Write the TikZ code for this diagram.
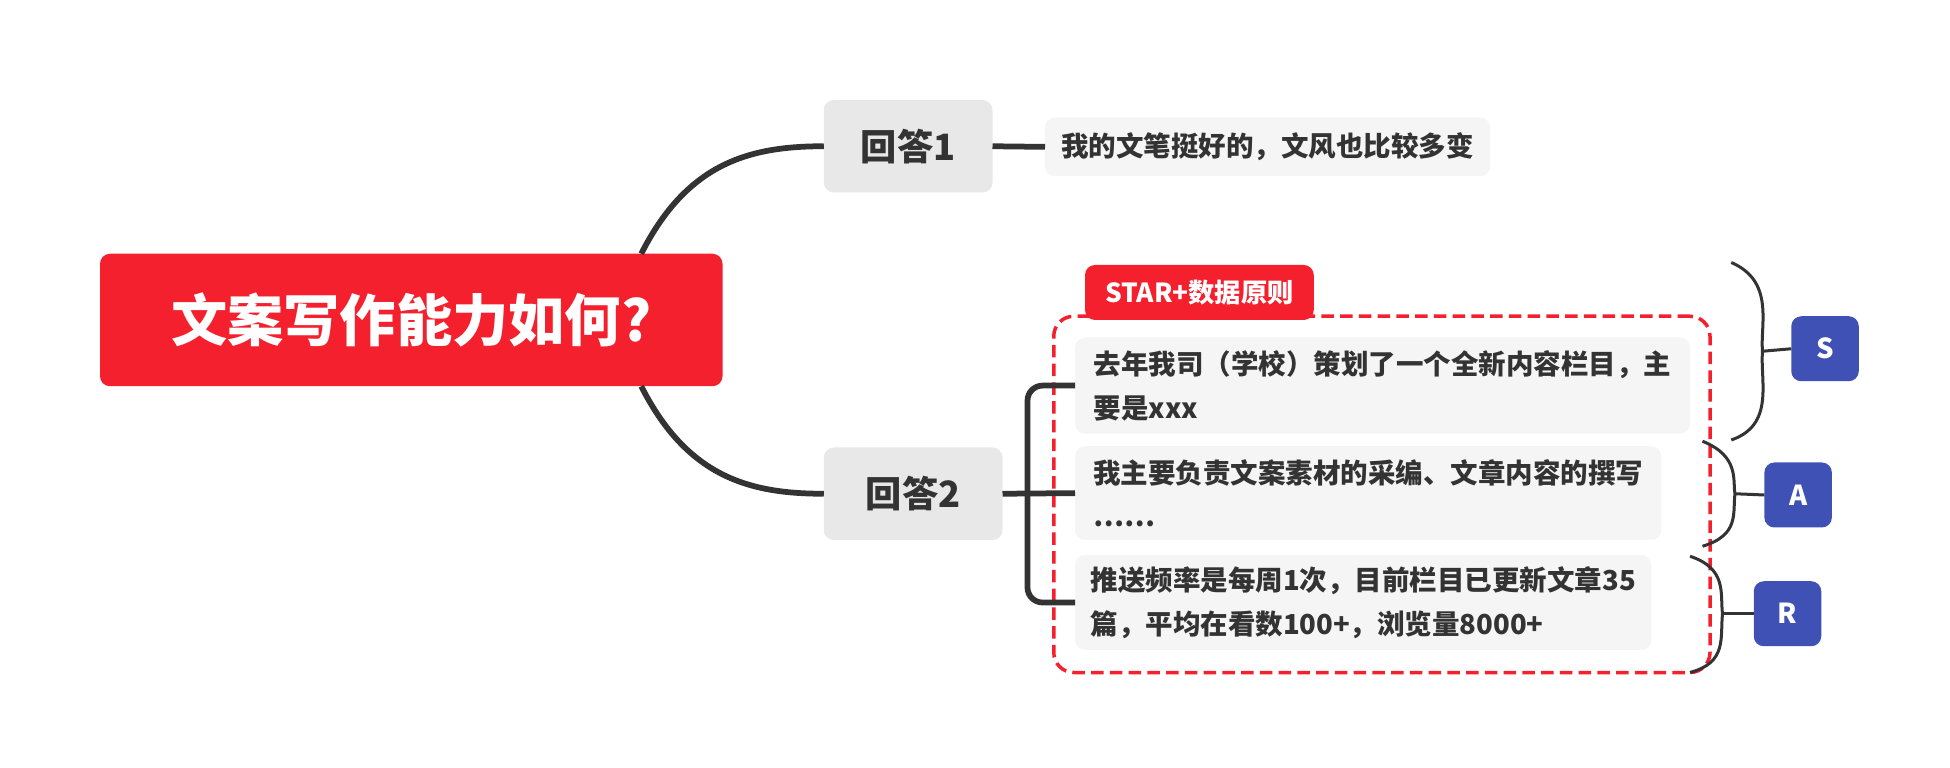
\documentclass[tikz,border=0pt]{standalone}
\usepackage{fontspec}
\setmainfont{Noto Sans CJK SC}
\usetikzlibrary{positioning}
\definecolor{rootred}{HTML}{F5202E}
\definecolor{topicgray}{HTML}{E8E8E8}
\definecolor{leafgray}{HTML}{F5F5F5}
\definecolor{txt}{HTML}{333333}
\definecolor{linec}{HTML}{333333}
\definecolor{sblue}{HTML}{3F51B5}
\tikzset{
  every node/.style={inner sep=0pt, outer sep=0pt},
  rootbox/.style={fill=rootred, rounded corners=4pt, minimum width=249pt, minimum height=53pt, text=white, font=\fontsize{22.5}{27}\selectfont\bfseries},
  topicbox/.style={fill=topicgray, rounded corners=4pt, minimum height=37pt, text=txt, font=\fontsize{14.5}{17}\selectfont\bfseries},
  leafbox/.style={fill=leafgray, rounded corners=4pt, text=txt, font=\fontsize{11}{17.5}\selectfont\bfseries, align=left, anchor=west, inner xsep=4.5pt},
  tagbox/.style={fill=sblue, rounded corners=4pt, minimum width=27pt, minimum height=26pt, text=white, font=\fontsize{11}{13}\selectfont\bfseries},
  conn/.style={draw=linec, line width=2.3pt},
  thin/.style={draw=linec, line width=1.2pt},
}
\begin{document}
\begin{tikzpicture}[x=0.5pt,y=-0.5pt]
\useasboundingbox (0,0) rectangle (1560,614.4);
\node[rootbox] (root) at (329,256) {文案写作能力如何?};
\node[topicbox, minimum width=67.5pt] (t1) at (726.5,117) {回答1};
\node[topicbox, minimum width=71.5pt] (t2) at (730.5,395) {回答2};
\node[leafbox, minimum width=178pt, minimum height=23.5pt] (l1) at (836,117.5) {我的文笔挺好的，文风也比较多变};
% dashed frame
\node[draw=rootred, line width=1.4pt, dash pattern=on 5pt off 2.5pt, rounded corners=8pt, minimum width=262.5pt, minimum height=142.5pt] (frame) at (1105.5,395.5) {};
\node[fill=rootred, rounded corners=4pt, minimum width=91.5pt, minimum height=22pt, text=white, font=\fontsize{10.5}{12}\selectfont\bfseries] (tab) at (959.5,234) {STAR+数据原则};
\node[leafbox, minimum width=246pt, minimum height=38.5pt] (i1) at (860,308.5) {去年我司（学校）策划了一个全新内容栏目，主\\要是xxx};
\node[leafbox, minimum width=234.5pt, minimum height=37.5pt] (i2) at (860,394.5) {我主要负责文案素材的采编、文章内容的撰写\\……};
\node[leafbox, minimum width=230.5pt, minimum height=38pt] (i3) at (860,482) {推送频率是每周1次，目前栏目已更新文章35\\篇，平均在看数100+，浏览量8000+};
\node[tagbox] (S) at (1460,279) {S};
\node[tagbox] (A) at (1438.5,396) {A};
\node[tagbox] (R) at (1430,491) {R};
% connectors
\draw[conn] (root.north east) ++(-65,0) coordinate (rt) .. controls (550,130) and (600,117) .. (t1.west);
\draw[conn] (root.south east) ++(-65,0) coordinate (rb) .. controls (550,382) and (600,395) .. (t2.west);
\draw[conn] (t1.east) -- (l1.west);
\coordinate (bx) at (822,395);
\draw[conn] (t2.east) -- (i2.west);
\draw[conn, rounded corners=6pt] (i1.west) -| (bx) |- (i3.west);
% braces
\draw[thin] (1385,210) .. controls (1420,225) and (1408,260) .. (1410,281) .. controls (1408,305) and (1420,340) .. (1385,352);
\draw[thin] (1410,281) -- (S.west);
\draw[thin] (1362,353) .. controls (1392,365) and (1386,385) .. (1388,395) .. controls (1386,410) and (1392,428) .. (1362,437);
\draw[thin] (1388,395) -- (A.west);
\draw[thin] (1352,445) .. controls (1382,455) and (1376,475) .. (1378,491) .. controls (1376,510) and (1382,530) .. (1352,538);
\draw[thin] (1378,491) -- (R.west);
\end{tikzpicture}
\end{document}
